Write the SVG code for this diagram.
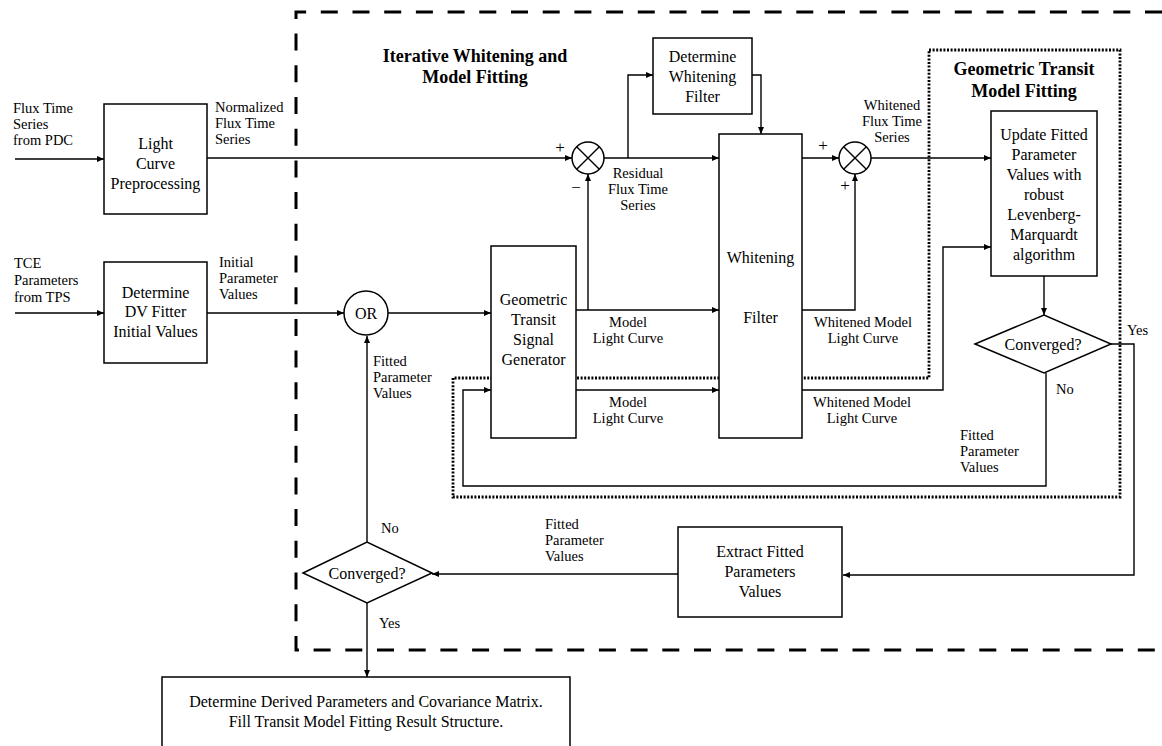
<svg xmlns="http://www.w3.org/2000/svg" width="1162" height="746" viewBox="0 0 1162 746">
<defs>
<marker id="arr" markerUnits="userSpaceOnUse" markerWidth="7" markerHeight="6" refX="7" refY="3" orient="auto">
<path d="M0,0 L7,3 L0,6 z" fill="#000"/>
</marker>
<style>
text{font-family:"Liberation Serif","Times New Roman",serif;fill:#000}
.box{fill:#fff;stroke:#000;stroke-width:1.5}
.bt{font-size:16px;text-anchor:middle}
.lb{font-size:14.5px}
.lc{font-size:14.5px;text-anchor:middle}
.pm{font-size:17px;text-anchor:middle}
.title{font-size:18px;font-weight:bold;text-anchor:middle}
.ln{fill:none;stroke:#000;stroke-width:1.4}
.ar{marker-end:url(#arr)}
.dash{fill:none;stroke:#000;stroke-width:3;stroke-dasharray:17 14.7}
.dot{fill:none;stroke:#000;stroke-width:2.8;stroke-dasharray:2 1.6}
</style>
</defs>
<rect width="1162" height="746" fill="#fff"/>

<g id="boundaries">
<path class="dash" d="M1162,12 H296 V650 H1162"/>
<path class="dot" d="M929,50 H1120 V497 H453 V378 H929 Z"/>
<text class="title" x="475" y="62">Iterative Whitening and</text>
<text class="title" x="475" y="83">Model Fitting</text>
<text class="title" x="1024" y="75">Geometric Transit</text>
<text class="title" x="1024" y="97">Model Fitting</text>
</g>

<g id="connectors">
<path class="ln ar" d="M15,159 H104"/>
<path class="ln ar" d="M207,158 H572"/>
<path class="ln ar" d="M15,313 H104"/>
<path class="ln ar" d="M207,313 H344"/>
<path class="ln ar" d="M388,313 H491"/>
<path class="ln ar" d="M604,158 H719"/>
<path class="ln ar" d="M628,158 V75 H653"/>
<path class="ln ar" d="M752,75 H761 V134"/>
<path class="ln ar" d="M576,310 H719"/>
<path class="ln ar" d="M588,310 V174"/>
<path class="ln ar" d="M802,158 H839"/>
<path class="ln ar" d="M802,310 H855 V174"/>
<path class="ln ar" d="M871,158 H991"/>
<path class="ln ar" d="M576,390 H719"/>
<path class="ln ar" d="M802,390 H943 V247 H991"/>
<path class="ln ar" d="M1044,276 V315"/>
<path class="ln ar" d="M1046,373 V486 H463 V390 H491"/>
<path class="ln ar" d="M1111,344 H1134 V575 H843"/>
<path class="ln ar" d="M678,574 H432"/>
<path class="ln ar" d="M367,542 V336"/>
<path class="ln ar" d="M367,603 V677"/>
</g>

<g id="edge-labels">
<text class="lb" x="13" y="113">Flux Time</text>
<text class="lb" x="13" y="129">Series</text>
<text class="lb" x="13" y="145">from PDC</text>
<text class="lb" x="215" y="112">Normalized</text>
<text class="lb" x="215" y="128">Flux Time</text>
<text class="lb" x="215" y="144">Series</text>
<text class="lb" x="14" y="268">TCE</text>
<text class="lb" x="14" y="285">Parameters</text>
<text class="lb" x="14" y="302">from TPS</text>
<text class="lb" x="219" y="267">Initial</text>
<text class="lb" x="219" y="283">Parameter</text>
<text class="lb" x="219" y="299">Values</text>
<text class="lb" x="373" y="366">Fitted</text>
<text class="lb" x="373" y="382">Parameter</text>
<text class="lb" x="373" y="398">Values</text>
<text class="pm" x="560" y="153">+</text>
<text class="pm" x="576" y="193">−</text>
<text class="lc" x="638" y="178">Residual</text>
<text class="lc" x="638" y="194">Flux Time</text>
<text class="lc" x="638" y="210">Series</text>
<text class="lc" x="628" y="327">Model</text>
<text class="lc" x="628" y="343">Light Curve</text>
<text class="lc" x="628" y="407">Model</text>
<text class="lc" x="628" y="423">Light Curve</text>
<text class="pm" x="823" y="151">+</text>
<text class="pm" x="845" y="191">+</text>
<text class="lc" x="892" y="110">Whitened</text>
<text class="lc" x="892" y="126">Flux Time</text>
<text class="lc" x="892" y="142">Series</text>
<text class="lc" x="863" y="327">Whitened Model</text>
<text class="lc" x="863" y="343">Light Curve</text>
<text class="lc" x="862" y="407">Whitened Model</text>
<text class="lc" x="862" y="423">Light Curve</text>
<text class="lb" x="1127" y="335">Yes</text>
<text class="lb" x="1056" y="394">No</text>
<text class="lb" x="960" y="440">Fitted</text>
<text class="lb" x="960" y="456">Parameter</text>
<text class="lb" x="960" y="472">Values</text>
<text class="lb" x="545" y="529">Fitted</text>
<text class="lb" x="545" y="545">Parameter</text>
<text class="lb" x="545" y="561">Values</text>
<text class="lb" x="381" y="533">No</text>
<text class="lb" x="379" y="628">Yes</text>
</g>

<g id="n-lcp">
<rect class="box" x="104" y="104" width="103" height="110"/>
<text class="bt" x="155.5" y="149">Light</text>
<text class="bt" x="155.5" y="169">Curve</text>
<text class="bt" x="155.5" y="189">Preprocessing</text>
</g>
<g id="n-dvinit">
<rect class="box" x="104" y="262" width="103" height="101"/>
<text class="bt" x="155.5" y="298">Determine</text>
<text class="bt" x="155.5" y="317">DV Fitter</text>
<text class="bt" x="155.5" y="337">Initial Values</text>
</g>
<g id="n-or">
<circle class="box" cx="366" cy="313" r="22"/>
<text class="bt" x="366" y="319">OR</text>
</g>
<g id="n-gtsg">
<rect class="box" x="491" y="246" width="85" height="192"/>
<text class="bt" x="533.5" y="305">Geometric</text>
<text class="bt" x="533.5" y="325">Transit</text>
<text class="bt" x="533.5" y="345">Signal</text>
<text class="bt" x="533.5" y="365">Generator</text>
</g>
<g id="n-dwf">
<rect class="box" x="653" y="38" width="99" height="76"/>
<text class="bt" x="702.5" y="62">Determine</text>
<text class="bt" x="702.5" y="82">Whitening</text>
<text class="bt" x="702.5" y="102">Filter</text>
</g>
<g id="n-wf">
<rect class="box" x="719" y="134" width="83" height="304"/>
<text class="bt" x="760.5" y="263">Whitening</text>
<text class="bt" x="760.5" y="323">Filter</text>
</g>
<g id="n-sum1">
<circle class="box" cx="588" cy="158" r="16"/>
<path class="ln" d="M576.7,146.7 L599.3,169.3 M599.3,146.7 L576.7,169.3"/>
</g>
<g id="n-sum2">
<circle class="box" cx="855" cy="158" r="16"/>
<path class="ln" d="M843.7,146.7 L866.3,169.3 M866.3,146.7 L843.7,169.3"/>
</g>
<g id="n-update">
<rect class="box" x="991" y="111" width="106" height="165"/>
<text class="bt" x="1044" y="140">Update Fitted</text>
<text class="bt" x="1044" y="160">Parameter</text>
<text class="bt" x="1044" y="180">Values with</text>
<text class="bt" x="1044" y="200">robust</text>
<text class="bt" x="1044" y="220">Levenberg-</text>
<text class="bt" x="1044" y="240">Marquardt</text>
<text class="bt" x="1044" y="260">algorithm</text>
</g>
<g id="n-conv-inner">
<path class="box" d="M975,344 L1044,315 L1111,344 L1044,373 Z"/>
<text class="bt" x="1043" y="350">Converged?</text>
</g>
<g id="n-extract">
<rect class="box" x="678" y="527" width="164" height="90"/>
<text class="bt" x="760" y="557">Extract Fitted</text>
<text class="bt" x="760" y="577">Parameters</text>
<text class="bt" x="760" y="597">Values</text>
</g>
<g id="n-conv-outer">
<path class="box" d="M303,573 L367,542 L432,573 L367,603 Z"/>
<text class="bt" x="367" y="579">Converged?</text>
</g>
<g id="n-derived">
<rect class="box" x="162" y="677" width="408" height="90"/>
<text class="bt" x="366" y="707">Determine Derived Parameters and Covariance Matrix.</text>
<text class="bt" x="366" y="727">Fill Transit Model Fitting Result Structure.</text>
</g>
</svg>
